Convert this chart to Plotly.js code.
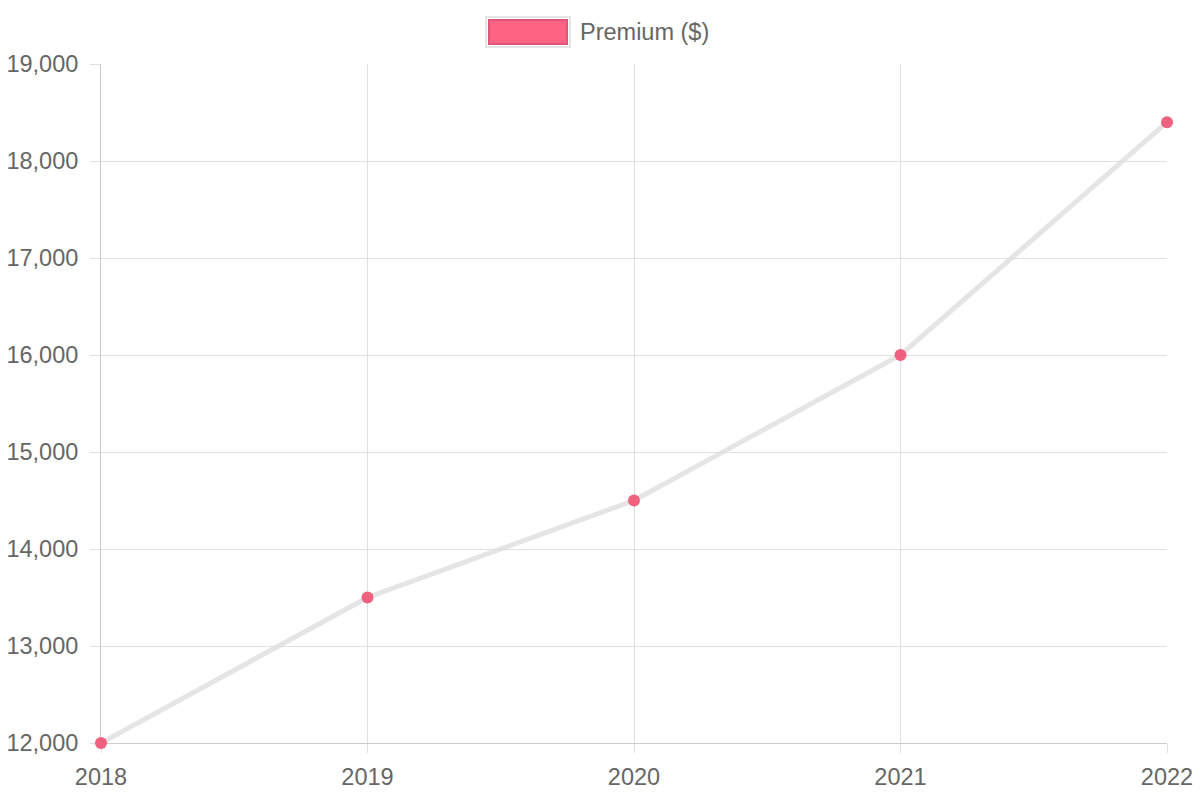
<!DOCTYPE html>
<html>
<head>
<meta charset="utf-8">
<script src="https://cdn.plot.ly/plotly-3.0.1.min.js"></script>
<style>html,body{margin:0;padding:0;background:#fff;}#chart{width:1200px;height:800px;}</style>
</head>
<body>
<div id="chart"></div>
<script>
const years = ['2018', '2019', '2020', '2021', '2022'];
const premium = [12000, 13500, 14500, 16000, 18400];
const seriesName = 'Premium ($)';
const yTicks = [12000, 13000, 14000, 15000, 16000, 17000, 18000, 19000];

const trace = {
  x: years,
  y: premium,
  name: seriesName,
  type: 'scatter',
  mode: 'lines+markers',
  cliponaxis: false,
  line: {color: 'rgba(220,220,220,0.75)', width: 5},
  marker: {color: '#f0607f', size: 12, line: {width: 0}},
  showlegend: false,
  hoverinfo: 'x+y'
};

const font = {family: 'Liberation Sans, Arial, sans-serif', size: 23.5, color: '#666666'};

const layout = {
  width: 1200, height: 800,
  margin: {l: 101, r: 33, t: 64, b: 57},
  paper_bgcolor: '#ffffff', plot_bgcolor: '#ffffff',
  font: font,
  showlegend: false,
  xaxis: {
    type: 'category',
    range: [0, years.length - 1],
    layer: 'below traces',
    showgrid: true, gridcolor: '#e0e0e0', gridwidth: 1,
    showline: true, linecolor: '#cccccc', linewidth: 1,
    ticks: 'outside', ticklen: 9, tickcolor: '#e0e0e0',
    ticklabelstandoff: 4,
    tickfont: font, zeroline: false, fixedrange: true
  },
  yaxis: {
    range: [12000, 19000],
    tickvals: yTicks,
    tickformat: ',d',
    layer: 'below traces',
    showgrid: true, gridcolor: '#e0e0e0', gridwidth: 1,
    showline: true, linecolor: '#cccccc', linewidth: 1,
    ticks: 'outside', ticklen: 10, tickcolor: '#e0e0e0',
    ticklabelstandoff: 7,
    tickfont: font, zeroline: false, fixedrange: true
  },
  shapes: [
    {type: 'rect', xref: 'paper', yref: 'paper',
     x0: (486 - 101) / 1066, x1: (570 - 101) / 1066,
     y0: (743 - 47) / 679, y1: (743 - 17) / 679,
     fillcolor: 'rgba(0,0,0,0)', line: {color: '#e6e6e6', width: 2}},
    {type: 'rect', xref: 'paper', yref: 'paper',
     x0: (489 - 101) / 1066, x1: (567 - 101) / 1066,
     y0: (743 - 44) / 679, y1: (743 - 20) / 679,
     fillcolor: '#ff6384', line: {color: '#e0557a', width: 2}}
  ],
  annotations: [
    {xref: 'paper', yref: 'paper', x: (578 - 101) / 1066, y: (743 - 32) / 679,
     xanchor: 'left', yanchor: 'middle', showarrow: false,
     text: seriesName, font: font}
  ]
};

Plotly.newPlot('chart', [trace], layout, {displayModeBar: false, staticPlot: true});
</script>
</body>
</html>
